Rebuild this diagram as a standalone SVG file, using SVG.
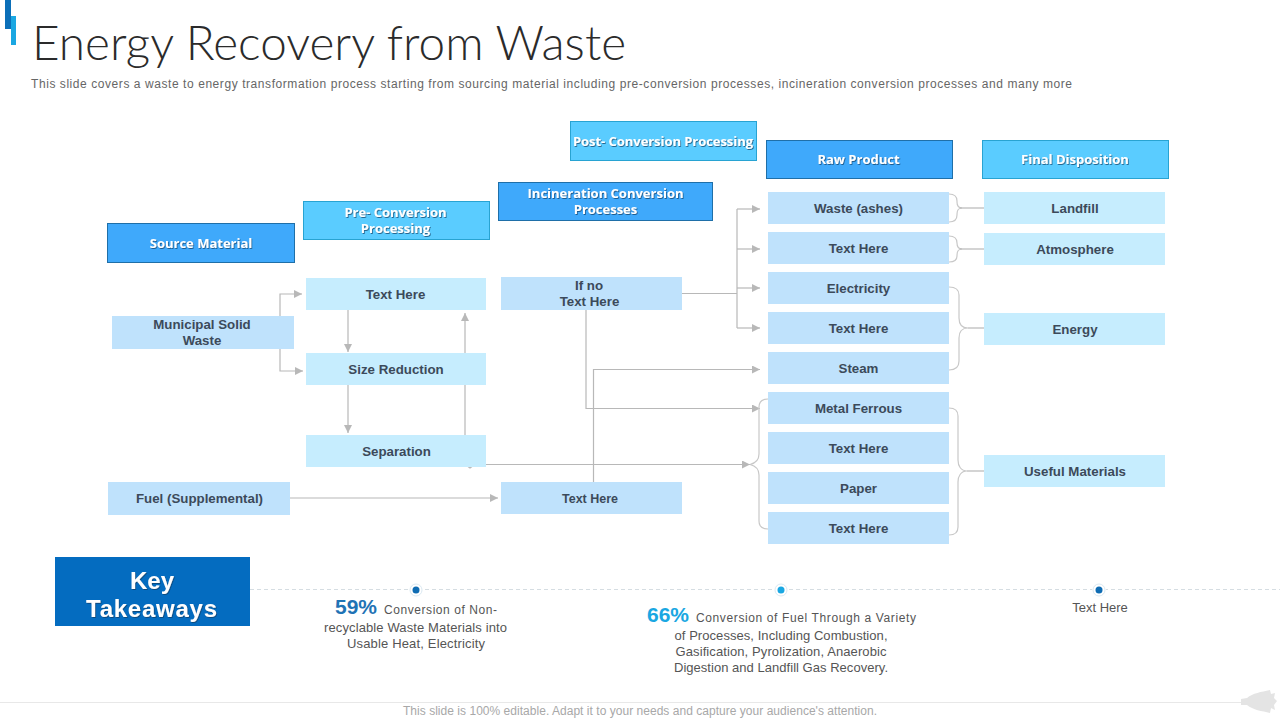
<svg xmlns="http://www.w3.org/2000/svg" width="1280" height="720" viewBox="0 0 1280 720">
<style>
text{font-family:"Liberation Sans",Arial,sans-serif}
.hd{stroke-width:1}
.h1{fill:#3fa9fb;stroke:#1f6fa8}
.h2{fill:#5accff;stroke:#28a3d2}
.ht{font-family:"Open Sans","Liberation Sans",sans-serif;font-size:13px;font-weight:700;fill:#fff;text-anchor:middle;filter:url(#sh)}
.n1{fill:#bfe2fc}
.n2{fill:#c6edfe}
.nt{font-size:13.300px;font-weight:700;fill:#3c4a5a;text-anchor:middle}
.sub{font-size:13px;fill:#555;text-anchor:middle}
.c{fill:none;stroke:#b8b8b8;stroke-width:1.2}
.b{fill:none;stroke:#c8c8c8;stroke-width:1.2}
</style>
<defs>
<filter id="sh" x="-10%" y="-30%" width="120%" height="170%"><feDropShadow dx="0.8" dy="1" stdDeviation="0.6" flood-color="#0a3a60" flood-opacity="0.7"/></filter>
<marker id="a" markerUnits="userSpaceOnUse" markerWidth="9" markerHeight="8" refX="8" refY="4" orient="auto"><path d="M0 0L8 4L0 8Z" fill="#b8b8b8"/></marker>
</defs>
<rect width="1280" height="720" fill="#fff"/>
<rect x="5" y="0" width="6" height="29" fill="#0b6fb8"/>
<rect x="11" y="16" width="5" height="29" fill="#1aa7e2"/>
<text x="32" y="60" font-size="47" font-weight="300" fill="#2b2b2b" textLength="594" lengthAdjust="spacingAndGlyphs" style="font-family:Lato,'Liberation Sans',sans-serif">Energy Recovery from Waste</text>
<text x="31" y="88" font-size="12" fill="#666" textLength="1041">This slide covers a waste to energy transformation process starting from sourcing material including pre-conversion processes, incineration conversion processes and many more</text>

<g id="connectors">
<path class="c" d="M280 316V294H302" marker-end="url(#a)"/>
<path class="c" d="M280 349V371H303" marker-end="url(#a)"/>
<path class="c" d="M348 310V352" marker-end="url(#a)"/>
<path class="c" d="M348 385V433" marker-end="url(#a)"/>
<path class="c" d="M465 435V313" marker-end="url(#a)"/>
<path class="c" d="M290 498H498" marker-end="url(#a)"/>
<path class="c" d="M682 293.500H737"/>
<path class="c" d="M737 209V328"/>
<path class="c" d="M737 209H760" marker-end="url(#a)"/>
<path class="c" d="M737 249H760" marker-end="url(#a)"/>
<path class="c" d="M737 288H760" marker-end="url(#a)"/>
<path class="c" d="M737 328H760" marker-end="url(#a)"/>
<path class="c" d="M586 310V408.500H760" marker-end="url(#a)"/>
<path class="c" d="M593.500 482V369.500H760" marker-end="url(#a)"/>
<path class="c" d="M486 464.500H750" marker-end="url(#a)"/>
<path class="c" d="M466 465L470 468L474 465" />
<path class="b" d="M768 399C762 399 759 402 759 407V454C759 460 756 463 750 464.500C756 466 759 469 759 475V521C759 526 762 529 768 529"/>
<path class="b" d="M949 194C955 194 957 197 957 201V202C957 206 958 208 962 208C958 208 957 210 957 214V215C957 219 955 222 949 222"/>
<path class="c" d="M960 208H984"/>
<path class="b" d="M949 236C955 236 957 239 957 243V243C957 247 958 249 962 249C958 249 957 251 957 255V256C957 260 955 262 949 262"/>
<path class="c" d="M960 249H984"/>
<path class="b" d="M949 287C956 287 959 290 959 295V318C959 324 962 328 968 328C962 328 959 332 959 338V361C959 367 956 370 949 370"/>
<path class="c" d="M968 328H984"/>
<path class="b" d="M949 408C955 408 958 411 958 416V460C958 466 961 471 967 471C961 471 958 476 958 482V527C958 532 955 535 949 535"/>
<path class="c" d="M967 471H984"/>
</g>

<g id="source-material"><rect class="hd h1" x="107.500" y="223.500" width="187" height="39"/><text class="ht" x="201" y="248">Source Material</text></g>
<g id="pre-conversion"><rect class="hd h2" x="303.500" y="201.500" width="186" height="38"/><text class="ht" x="395.500" y="217">Pre- Conversion</text><text class="ht" x="395.500" y="233">Processing</text></g>
<g id="incineration"><rect class="hd h1" x="498.500" y="182.500" width="214" height="38"/><text class="ht" x="605.500" y="198">Incineration Conversion</text><text class="ht" x="605.500" y="214">Processes</text></g>
<g id="post-conversion"><rect class="hd h2" x="570.500" y="121.500" width="186" height="39"/><text class="ht" x="663" y="146" textLength="180">Post- Conversion Processing</text></g>
<g id="raw-product"><rect class="hd h1" x="766.500" y="140.500" width="186" height="38"/><text class="ht" x="858.500" y="164">Raw Product</text></g>
<g id="final-disposition"><rect class="hd h2" x="982.500" y="140.500" width="186" height="38"/><text class="ht" x="1075" y="164">Final Disposition</text></g>

<g id="municipal"><rect class="n1" x="112" y="316" width="182" height="33"/><text class="nt" x="202" y="329">Municipal Solid</text><text class="nt" x="202" y="345">Waste</text></g>
<g id="fuel"><rect class="n1" x="108" y="482" width="182" height="33"/><text class="nt" x="199.500" y="503">Fuel (Supplemental)</text></g>
<g id="pre-text"><rect class="n2" x="306" y="278" width="180" height="32"/><text class="nt" x="395.500" y="299">Text Here</text></g>
<g id="size-reduction"><rect class="n2" x="306" y="353" width="180" height="32"/><text class="nt" x="396" y="374">Size Reduction</text></g>
<g id="separation"><rect class="n2" x="306" y="435" width="180" height="32"/><text class="nt" x="396.500" y="456">Separation</text></g>
<g id="if-no"><rect class="n1" x="501" y="277" width="181" height="33"/><text class="nt" x="589" y="290">If no</text><text class="nt" x="589.500" y="306">Text Here</text></g>
<g id="inc-text"><rect class="n1" x="501" y="482" width="181" height="32"/><text class="nt" x="590" y="503" style="font-size:12.500px">Text Here</text></g>

<g id="waste-ashes"><rect class="n1" x="768" y="192" width="181" height="32"/><text class="nt" x="858.500" y="213">Waste (ashes)</text></g>
<g id="raw-text-1"><rect class="n1" x="768" y="232" width="181" height="32"/><text class="nt" x="858.500" y="253">Text Here</text></g>
<g id="electricity"><rect class="n1" x="768" y="272" width="181" height="32"/><text class="nt" x="858.500" y="293">Electricity</text></g>
<g id="raw-text-2"><rect class="n1" x="768" y="312" width="181" height="32"/><text class="nt" x="858.500" y="333">Text Here</text></g>
<g id="steam"><rect class="n1" x="768" y="352" width="181" height="32"/><text class="nt" x="858.500" y="373">Steam</text></g>
<g id="metal-ferrous"><rect class="n1" x="768" y="392" width="181" height="32"/><text class="nt" x="858.500" y="413">Metal Ferrous</text></g>
<g id="raw-text-3"><rect class="n1" x="768" y="432" width="181" height="32"/><text class="nt" x="858.500" y="453">Text Here</text></g>
<g id="paper"><rect class="n1" x="768" y="472" width="181" height="32"/><text class="nt" x="858.500" y="493">Paper</text></g>
<g id="raw-text-4"><rect class="n1" x="768" y="512" width="181" height="32"/><text class="nt" x="858.500" y="533">Text Here</text></g>

<g id="landfill"><rect class="n2" x="984" y="192" width="181" height="32"/><text class="nt" x="1075" y="213">Landfill</text></g>
<g id="atmosphere"><rect class="n2" x="984" y="233" width="181" height="32"/><text class="nt" x="1075" y="254">Atmosphere</text></g>
<g id="energy"><rect class="n2" x="984" y="313" width="181" height="32"/><text class="nt" x="1075" y="334">Energy</text></g>
<g id="useful-materials"><rect class="n2" x="984" y="455" width="181" height="32"/><text class="nt" x="1075" y="476">Useful Materials</text></g>

<g id="key-takeaways">
<rect x="55" y="557" width="195" height="69" fill="#046cc0"/>
<text x="152" y="589" font-size="24" font-weight="700" fill="#fff" text-anchor="middle" filter="url(#sh)">Key</text>
<text x="151.500" y="617" font-size="24" font-weight="700" fill="#fff" text-anchor="middle" filter="url(#sh)" textLength="131">Takeaways</text>
</g>
<path d="M250 589.500H1280" stroke="#d5dde2" stroke-width="1" stroke-dasharray="4 3" fill="none"/>
<g id="dot-1"><circle cx="416" cy="590" r="7" fill="#fff"/><circle cx="416" cy="590" r="3.500" fill="#0f6cb3"/><circle cx="416" cy="590" r="6" fill="none" stroke="#dbe9f2"/></g>
<g id="dot-2"><circle cx="781" cy="590" r="7" fill="#fff"/><circle cx="781" cy="590" r="3.500" fill="#1aa7e2"/><circle cx="781" cy="590" r="6" fill="none" stroke="#dbe9f2"/></g>
<g id="dot-3"><circle cx="1099" cy="590" r="7" fill="#fff"/><circle cx="1099" cy="590" r="3.500" fill="#0f6cb3"/><circle cx="1099" cy="590" r="6" fill="none" stroke="#dbe9f2"/></g>

<g id="takeaway-1">
<text x="335" y="614" font-size="21" font-weight="700" fill="#1f73b5">59%</text>
<text x="384" y="614" font-size="12" fill="#555" textLength="113">Conversion of Non-</text>
<text class="sub" x="415.500" y="632" textLength="183">recyclable Waste Materials into</text>
<text class="sub" x="416" y="648" textLength="138">Usable Heat, Electricity</text>
</g>
<g id="takeaway-2">
<text x="647" y="622" font-size="21" font-weight="700" fill="#1aa7e2">66%</text>
<text x="696" y="622" font-size="12" fill="#555" textLength="220">Conversion of Fuel Through a Variety</text>
<text class="sub" x="781" y="640" textLength="213">of Processes, Including Combustion,</text>
<text class="sub" x="781" y="656" textLength="211">Gasification, Pyrolization, Anaerobic</text>
<text class="sub" x="781" y="672" textLength="214">Digestion and Landfill Gas Recovery.</text>
</g>
<g id="takeaway-3"><text class="sub" x="1100" y="612">Text Here</text></g>

<path d="M0 702.500H1241" stroke="#e8e8e8" fill="none"/>
<text x="640" y="715" font-size="12" fill="#a8a8a8" text-anchor="middle" textLength="474">This slide is 100% editable. Adapt it to your needs and capture your audience's attention.</text>
<path d="M1241 699L1247 698C1253 693 1261 692 1270 690L1271 694L1275 693L1274 698L1277 701L1274 705L1275 710L1271 708L1270 713C1262 711 1253 710 1247 705L1241 705Z" fill="#e4e4e4"/>
</svg>
